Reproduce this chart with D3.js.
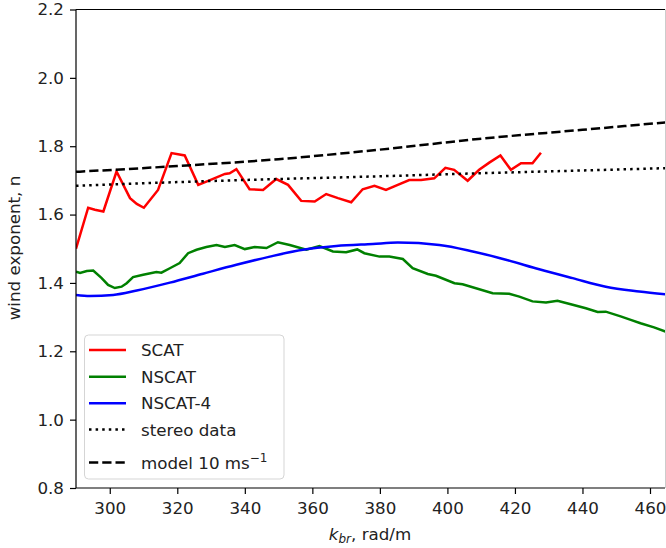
<!DOCTYPE html>
<html>
<head>
<meta charset="utf-8">
<script src="https://cdn.jsdelivr.net/npm/d3@7"></script>
<style>
  body { margin: 0; background: #fff; }
  svg { display: block; font-family: "DejaVu Sans", sans-serif; }
</style>
</head>
<body>
<div id="chart"></div>
<script>
// values
var scatK = [290, 293.6, 295.6, 298.1, 302.0, 306.0, 308.0, 310.1, 314.3, 318.3, 322.2, 326.2, 329.7, 334.1, 335.5, 337.5, 341.4, 345.4, 349.3, 352.8, 356.7, 360.7, 364.1, 367.6, 371.5, 374.9, 378.4, 381.8, 385.3, 388.7, 392.2, 396.1, 399.4, 402.0, 406.0, 409.4, 412.4, 415.7, 418.8, 421.8, 425.2, 427.7];
var scatN = [1.500, 1.620, 1.614, 1.609, 1.726, 1.648, 1.631, 1.620, 1.672, 1.780, 1.773, 1.687, 1.701, 1.719, 1.721, 1.733, 1.674, 1.672, 1.704, 1.687, 1.640, 1.638, 1.660, 1.648, 1.636, 1.674, 1.684, 1.672, 1.687, 1.701, 1.701, 1.706, 1.737, 1.731, 1.699, 1.731, 1.752, 1.773, 1.731, 1.750, 1.750, 1.781];

var nscatK = [290, 291.2, 293.2, 295.1, 297.6, 299.5, 301.5, 303.5, 305.0, 306.9, 309.9, 313.8, 315.3, 317.8, 320.7, 323.2, 325.7, 328.6, 331.6, 334.1, 337.0, 340.0, 342.9, 346.4, 349.8, 353.3, 358.2, 362.1, 366.1, 370.0, 373.3, 375.4, 379.9, 382.8, 386.8, 389.7, 394.2, 396.6, 402.1, 404.5, 413.4, 418.3, 421.3, 425.2, 429.2, 432.6, 437.1, 441.0, 444.5, 446.9, 451.3, 454.3, 457.2, 461.2, 465];
var nscatN = [1.433, 1.429, 1.435, 1.436, 1.414, 1.394, 1.385, 1.389, 1.399, 1.417, 1.424, 1.432, 1.430, 1.443, 1.458, 1.487, 1.497, 1.505, 1.511, 1.505, 1.511, 1.499, 1.505, 1.502, 1.519, 1.511, 1.497, 1.508, 1.492, 1.490, 1.498, 1.487, 1.477, 1.477, 1.470, 1.443, 1.426, 1.421, 1.399, 1.396, 1.370, 1.368, 1.360, 1.346, 1.343, 1.348, 1.336, 1.326, 1.315, 1.316, 1.302, 1.292, 1.282, 1.270, 1.256];

var nscat4K = [290, 294.1, 301.0, 308.0, 317.8, 327.6, 337.5, 347.4, 357.2, 367.1, 377.9, 385.3, 397.6, 407.5, 417.3, 427.2, 437.1, 446.9, 456.8, 465];
var nscat4N = [1.365, 1.362, 1.365, 1.378, 1.401, 1.427, 1.453, 1.477, 1.497, 1.508, 1.514, 1.518, 1.511, 1.492, 1.468, 1.440, 1.414, 1.389, 1.375, 1.366];

var stereoK = [290, 320, 350, 380, 410, 440, 465];
var stereoN = [1.684, 1.695, 1.704, 1.712, 1.721, 1.729, 1.736];

var modelK = [290, 320, 350, 380, 410, 440, 465];
var modelN = [1.725, 1.742, 1.762, 1.790, 1.822, 1.848, 1.870];

var xTicks = [300, 320, 340, 360, 380, 400, 420, 440, 460];
var yTicks = [0.8, 1.0, 1.2, 1.4, 1.6, 1.8, 2.0, 2.2];

var W = 666, H = 548;
var fs = 16.7;

var svg = d3.select("#chart").append("svg")
    .attr("width", W).attr("height", H);

var x = d3.scaleLinear().domain([290, 460]).range([76, 650]);
var y = d3.scaleLinear().domain([0.8, 2.2]).range([488, 9.5]);
var plotRight = 665;

svg.append("clipPath").attr("id", "clip")
  .append("rect").attr("x", 76).attr("y", 9.5)
  .attr("width", plotRight - 76).attr("height", 488 - 9.5);

var series = [
  {name: "SCAT", k: scatK, n: scatN, color: "#ff0000", dash: null},
  {name: "NSCAT", k: nscatK, n: nscatN, color: "#008000", dash: null},
  {name: "NSCAT-4", k: nscat4K, n: nscat4N, color: "#0000ff", dash: null},
  {name: "stereo data", k: stereoK, n: stereoN, color: "#000", dash: "2.5,4.1"},
  {name: "model", k: modelK, n: modelN, color: "#000", dash: "9.25,4"}
];

var line = d3.line()
    .x(function(d) { return x(d[0]); })
    .y(function(d) { return y(d[1]); });
var smooth = d3.line()
    .x(function(d) { return x(d[0]); })
    .y(function(d) { return y(d[1]); })
    .curve(d3.curveMonotoneX);

var g = svg.append("g").attr("clip-path", "url(#clip)");
series.forEach(function(s, i) {
  var pts = s.k.map(function(k, j) { return [k, s.n[j]]; });
  var gen = (i >= 2) ? smooth : line;
  g.append("path")
    .attr("d", gen(pts))
    .attr("fill", "none")
    .attr("stroke", s.color)
    .attr("stroke-width", 2.5)
    .attr("stroke-dasharray", s.dash);
});

// axes
var xAxis = svg.append("g").attr("transform", "translate(0,488)")
  .call(d3.axisBottom(x).tickValues(xTicks).tickSize(6).tickPadding(8).tickFormat(d3.format("d")));
var yAxis = svg.append("g").attr("transform", "translate(76,0)")
  .call(d3.axisLeft(y).tickValues(yTicks).tickSize(6).tickPadding(6).tickFormat(d3.format(".1f")));

[xAxis, yAxis].forEach(function(a) {
  a.select(".domain").remove();
  a.selectAll("line").attr("stroke", "#000").attr("stroke-width", 1.2);
  a.selectAll("text").attr("fill", "#222").style("font-size", fs + "px")
    .style("font-family", "DejaVu Sans");
});

// spines
svg.append("line").attr("x1", 76).attr("x2", plotRight).attr("y1", 488).attr("y2", 488)
  .attr("stroke", "#000").attr("stroke-width", 1.2);
svg.append("line").attr("x1", 76).attr("x2", 76).attr("y1", 9.5).attr("y2", 488)
  .attr("stroke", "#000").attr("stroke-width", 1.2);
svg.append("line").attr("x1", 76).attr("x2", plotRight).attr("y1", 9.5).attr("y2", 9.5)
  .attr("stroke", "#000").attr("stroke-width", 1.2);
svg.append("line").attr("x1", plotRight + 0.5).attr("x2", plotRight + 0.5).attr("y1", 9.5).attr("y2", 488)
  .attr("stroke", "#ccc").attr("stroke-width", 1);

// axis labels
var xl = svg.append("text").attr("x", 370).attr("y", 540)
  .attr("text-anchor", "middle").style("font-size", fs + "px").attr("fill", "#222");
xl.append("tspan").style("font-style", "italic").text("k");
xl.append("tspan").style("font-style", "italic").style("font-size", "12px")
  .attr("dy", 3).text("br");
xl.append("tspan").attr("dy", -3).text(", rad/m");

svg.append("text")
  .attr("transform", "translate(20,248) rotate(-90)")
  .attr("text-anchor", "middle").style("font-size", fs + "px").attr("fill", "#222")
  .text("wind exponent, n");

// legend
var leg = svg.append("g");
leg.append("rect").attr("x", 84.5).attr("y", 335).attr("width", 199.5).attr("height", 144)
  .attr("rx", 4).attr("fill", "#fff").attr("fill-opacity", 0.8)
  .attr("stroke", "#d5d5d5").attr("stroke-width", 1);
var rowY = [350, 376.7, 403.3, 429.5, 462.5];
series.forEach(function(s, i) {
  leg.append("line").attr("x1", 89).attr("x2", 126)
    .attr("y1", rowY[i]).attr("y2", rowY[i])
    .attr("stroke", s.color).attr("stroke-width", 2.5)
    .attr("stroke-dasharray", s.dash);
  var t = leg.append("text").attr("x", 141).attr("y", rowY[i]).attr("dy", "0.36em")
    .style("font-size", fs + "px").attr("fill", "#222");
  if (i < 4) {
    t.text(s.name);
  } else {
    t.append("tspan").text("model 10 ms");
    t.append("tspan").attr("dy", -7).style("font-size", "12px").text("\u22121");
  }
});
</script>
</body>
</html>
